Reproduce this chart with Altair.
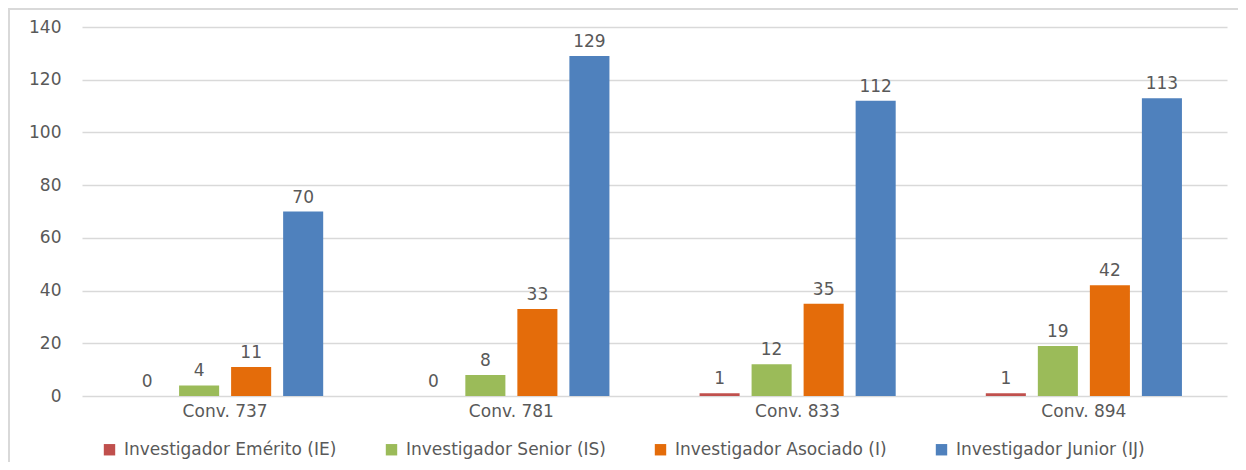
import altair as alt
import pandas as pd

categories = ["Conv. 737", "Conv. 781", "Conv. 833", "Conv. 894"]
series = ["Investigador Emérito (IE)", "Investigador Senior (IS)",
          "Investigador Asociado (I)", "Investigador Junior (IJ)"]
emerito = [0, 0, 1, 1]
senior = [4, 8, 12, 19]
asociado = [11, 33, 35, 42]
junior = [70, 129, 112, 113]
colors = ["#C0504D", "#9BBB59", "#E46C0A", "#4F81BD"]
y_ticks = [0, 20, 40, 60, 80, 100, 120, 140]

rows = []
for s, vals in zip(series, [emerito, senior, asociado, junior]):
    for c, v in zip(categories, vals):
        rows.append({"conv": c, "serie": s, "valor": v})
df = pd.DataFrame(rows)

TXT = "#595959"
FONT = "DejaVu Sans"
FS = 17

x = alt.X("conv:N", sort=categories, title=None,
          scale=alt.Scale(paddingInner=0.273, paddingOuter=0.1365),
          axis=alt.Axis(labelAngle=0, labelColor=TXT, labelFontSize=FS, labelFont=FONT,
                        ticks=False, domain=False, labelPadding=7, grid=False))
xo = alt.XOffset("serie:N", sort=series,
                 scale=alt.Scale(paddingInner=0.23, paddingOuter=0.115))
y = alt.Y("valor:Q", title=None,
          scale=alt.Scale(domain=[0, 140], nice=False),
          axis=alt.Axis(values=y_ticks, labelColor=TXT, labelFontSize=FS, labelFont=FONT,
                        ticks=False, domain=False, labelPadding=21,
                        gridColor="#D9D9D9", gridWidth=1.5))
color = alt.Color("serie:N", sort=series, title=None,
                  scale=alt.Scale(domain=series, range=colors),
                  legend=alt.Legend(orient="none", direction="horizontal", columns=4,
                                    legendX=19, legendY=414,
                                    symbolType="square", symbolSize=130,
                                    symbolStrokeWidth=0, labelLimit=400,
                                    labelFontSize=FS, labelFont=FONT, labelColor=TXT,
                                    labelOffset=6, columnPadding=46))

bars = alt.Chart(df).mark_bar().encode(
    x=x, xOffset=xo, y=y, color=color)

labels = alt.Chart(df).mark_text(baseline="bottom", dy=-5, fontSize=FS,
                                 font=FONT, color=TXT).encode(
    x=x, xOffset=xo, y=y, text=alt.Text("valor:Q"))

border_top = alt.Chart(pd.DataFrame({"a": [0]})).mark_rule(color="#D9D9D9", strokeWidth=2).encode(
    x=alt.value(-74), x2=alt.value(1170), y=alt.value(-18))
border_left = alt.Chart(pd.DataFrame({"a": [0]})).mark_rule(color="#D9D9D9", strokeWidth=2).encode(
    x=alt.value(-73), y=alt.value(-19), y2=alt.value(470))

chart = alt.layer(bars, labels, border_top, border_left).properties(
    width=1145, height=369,
    autosize=alt.AutoSizeParams(type="none"),
    padding={"left": 74, "top": 19, "right": 11, "bottom": 66},
).configure(font=FONT).configure_view(stroke=None)

chart.save("out.html", embed_options={"renderer": "svg", "actions": False})
